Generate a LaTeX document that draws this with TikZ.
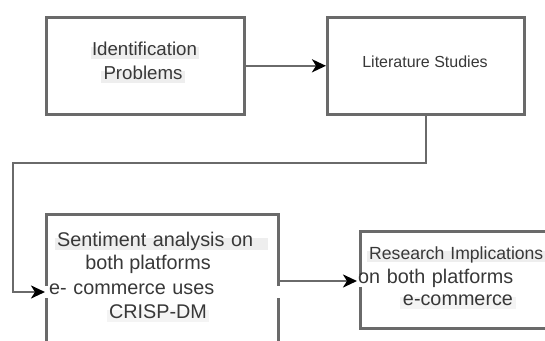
\documentclass[tikz,border=0pt]{standalone}
\usepackage{fontspec}
\setmainfont{Liberation Sans}
\usetikzlibrary{arrows.meta}
\definecolor{linegray}{HTML}{6A6A6A}
\definecolor{txtgray}{HTML}{383838}
\definecolor{hlgray}{HTML}{EEEEEE}
\definecolor{hllight}{HTML}{F4F4F4}
\begin{document}
\begin{tikzpicture}[x=1pt,y=-1pt,
  box/.style={draw=linegray, line width=2.6pt, fill=white, anchor=north west, inner sep=0pt},
  conn/.style={draw=linegray, line width=2.6pt, -{Stealth[length=14pt,width=13pt,inset=4pt,color=black]}},
  lbl/.style={text=txtgray, inner ysep=1pt, text height=0.74em, text depth=0.22em, inner xsep=1.5pt},
  szA/.style={font=\fontsize{18.7}{22}\selectfont},
  szB/.style={font=\fontsize{16}{19}\selectfont},
  szC/.style={font=\fontsize{19.8}{23}\selectfont},
  szD/.style={font=\fontsize{17.6}{21}\selectfont},
]
\useasboundingbox (0,0) rectangle (545,340);
\begin{scope}
\clip (0,0) rectangle (545,340);
% boxes
\node[box, minimum width=198pt, minimum height=97pt] (b1) at (45,16) {};
\node[box, minimum width=197pt, minimum height=97pt] (b2) at (326,16) {};
\node[box, minimum width=232pt, minimum height=150pt] (b3) at (45,213) {};
\node[box, minimum width=210pt, minimum height=97pt] (b4) at (359,230) {};
% texts box 1
\node[lbl, szA, fill=hlgray] (t1a) at (144.5,53) {Identification};
\node[lbl, szA, fill=hlgray, inner xsep=3pt] (t1b) at (143,77) {Problems};
% box 2
\node[lbl, szB] (t2) at (425,65) {Literature Studies};
% box 3
\node[lbl, szC, fill=hlgray, anchor=west, text width=209pt, align=left, inner xsep=2pt] (t3a) at (55,244) {Sentiment analysis on};
\node[lbl, szC] (t3b) at (148,267) {both platforms};
\node[lbl, szC, fill=white, anchor=west, text width=227pt, align=left, inner xsep=4pt] (t3c) at (45,292) {e- commerce uses};
\node[lbl, szC, fill=hllight, inner xsep=2.5pt] (t3d) at (158,316) {CRISP-DM};
% box 4
\node[lbl, szD, fill=hlgray, anchor=west, text width=190pt, align=left, inner xsep=2pt] (t4a) at (367,256.5) {Research Implications};
\node[lbl, szC, fill=white, anchor=west, text width=200pt, align=left, inner xsep=1pt] (t4b) at (357,281) {on both platforms};
\node[lbl, szC, fill=hllight, inner xsep=2.5pt] (t4c) at (458,303) {e-commerce};
% connectors
\coordinate (k1) at (13,163);
\draw[conn] (b1.east) -- (b2.west);
\draw[conn] (b2.south) |- (k1) |- (t3c.west);
\draw[conn] (b3.east |- t4b.west) -- (t4b.west);
\end{scope}
\end{tikzpicture}
\end{document}
